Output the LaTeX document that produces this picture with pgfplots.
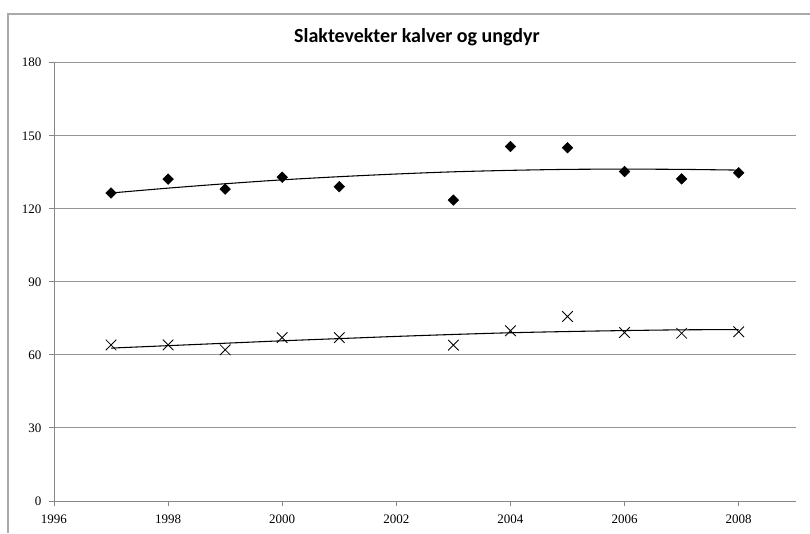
\documentclass[border=0pt]{standalone}
\usepackage{fontspec}
\setmainfont{Liberation Serif}
\newfontfamily\titlefont{Carlito}
\usepackage{pgfplots}
\pgfplotsset{compat=1.18}
\definecolor{axgray}{RGB}{134,134,134}
\definecolor{gridgray}{RGB}{150,150,150}
\definecolor{framegray}{RGB}{170,170,170}
\begin{document}
\begin{tikzpicture}
\path[use as bounding box] (0pt,0pt) rectangle (607.5pt,399.75pt);
\draw[framegray, line width=1pt] (6pt,0pt) -- (6pt,389.25pt) -- (607.5pt,389.25pt);
\node[font=\titlefont\bfseries\fontsize{15}{17}\selectfont] at (312.75pt,372pt) {Slaktevekter kalver og ungdyr};
\begin{axis}[
  at={(40.5pt,24pt)}, anchor=south west,
  scale only axis, width=556.3pt, height=328.7pt,
  xmin=1996, xmax=2009, ymin=0, ymax=180,
  xtick={1996,1998,...,2008}, ytick={0,30,...,180},
  axis x line*=bottom, axis y line*=left,
  axis line style={axgray, line width=0.75pt, -},
  ymajorgrids, grid style={gridgray, line width=0.75pt},
  tick align=outside, major tick length=4pt,
  tick style={axgray, line width=0.75pt},
  /pgf/number format/assume math mode=true,
  /pgf/number format/1000 sep={},
  ticklabel style={font=\fontsize{9.75}{11}\selectfont},
  yticklabel style={xshift=-2pt},
  xticklabel style={yshift=-3pt},
  clip=false,
]
\addplot[only marks, mark=square*, mark size=2.8pt, black,
  every mark/.append style={rotate=45}] coordinates {
(1997,126.5) (1998,132.2) (1999,128.1) (2000,133.0) (2001,129.1)
(2003,123.6) (2004,145.6) (2005,145.1) (2006,135.3) (2007,132.3) (2008,134.8)};
\addplot[black, line width=0.8pt, smooth, no marks] coordinates {
(1997,126.5) (1998,128.5) (1999,130.3) (2000,131.9) (2001,133.2) (2002,134.3)
(2003,135.2) (2004,135.8) (2005,136.2) (2006,136.3) (2007,136.2) (2008,135.9)};
\addplot[only marks, mark=x, mark size=5.6pt, black, line width=0.65pt] coordinates {
(1997,64.1) (1998,64.1) (1999,62.1) (2000,67.1) (2001,67.1)
(2003,64.0) (2004,69.9) (2005,75.8) (2006,69.2) (2007,68.9) (2008,69.5)};
\addplot[black, line width=0.8pt, smooth, no marks] coordinates {
(1997,62.8) (1998,63.8) (1999,64.8) (2000,65.8) (2001,66.7) (2002,67.6)
(2003,68.4) (2004,69.1) (2005,69.6) (2006,70.0) (2007,70.3) (2008,70.4)};
\end{axis}
\end{tikzpicture}
\end{document}
